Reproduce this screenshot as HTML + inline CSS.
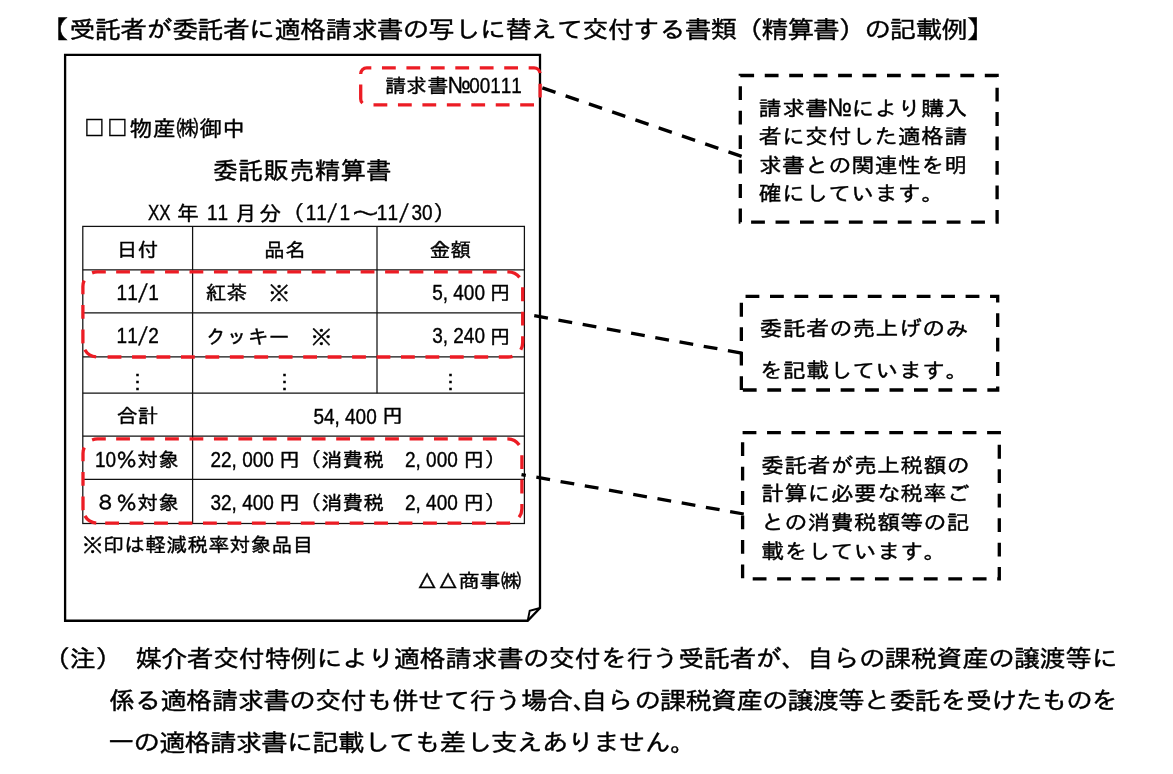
<!DOCTYPE html>
<html lang="ja">
<head>
<meta charset="utf-8">
<title>委託販売精算書の記載例</title>
<style>
html,body{margin:0;padding:0;background:#fff;}
body{width:1173px;height:774px;overflow:hidden;}
svg{display:block;will-change:transform;}
svg text.l{font-kerning:none;}
svg text{font-family:'Liberation Sans', 'IPAGothic', sans-serif;fill:#000;white-space:pre;stroke:#000;stroke-width:0.4px;}
</style>
</head>
<body>
<svg width="1173" height="774" viewBox="0 0 1173 774">
<rect x="0" y="0" width="1173" height="774" fill="#fff"/>
<!-- title -->
<text transform="translate(33.10 38.00) scale(1.450 1)" x="0.00" y="0" font-size="25.10" stroke-width="0.60">【</text>
<text transform="translate(69.66 37.80) scale(1.100 1)" x="-0.34" y="0" font-size="24.00" stroke-width="0.58" letter-spacing="-0.673">受託者が委託者に適格請求書の写しに替えて交付する書類（精算書）の記載例</text>
<text transform="translate(966.00 38.00) scale(1.450 1)" x="0.00" y="0" font-size="25.10" stroke-width="0.60">】</text>
<!-- sheet frame -->
<path d="M65.1 54.9 L540.0 54.9 L540.0 608 L527.7 620.75 L65.1 620.75 Z" fill="none" stroke="#000" stroke-width="2.3" stroke-linejoin="miter"/>
<path d="M540.0 608 L529.7 610.8 L527.7 620.75" fill="none" stroke="#000" stroke-width="1.9" stroke-linejoin="miter"/>
<!-- table -->
<rect x="82.8" y="226.4" width="441.60" height="297.10" fill="none" stroke="#111" stroke-width="1.25"/>
<line x1="82.80" y1="269.80" x2="524.40" y2="269.80" stroke="#111" stroke-width="1.25" />
<line x1="82.80" y1="312.80" x2="524.40" y2="312.80" stroke="#111" stroke-width="1.25" />
<line x1="82.80" y1="356.90" x2="524.40" y2="356.90" stroke="#111" stroke-width="1.25" />
<line x1="82.80" y1="393.20" x2="524.40" y2="393.20" stroke="#111" stroke-width="1.25" />
<line x1="82.80" y1="436.20" x2="524.40" y2="436.20" stroke="#111" stroke-width="1.25" />
<line x1="82.80" y1="479.30" x2="524.40" y2="479.30" stroke="#111" stroke-width="1.25" />
<line x1="192.60" y1="226.40" x2="192.60" y2="523.50" stroke="#111" stroke-width="1.25" />
<line x1="377.00" y1="226.40" x2="377.00" y2="393.20" stroke="#111" stroke-width="1.25" />
<!-- invoice text -->
<text transform="translate(385.10 93.30) scale(1.050 1)" x="0.17" y="0" font-size="19.75" stroke-width="0.47" letter-spacing="0.345">請求書</text>
<text transform="translate(447.52 92.90) scale(0.930 1.000)" x="0" y="0" font-size="23.20">№</text>
<text transform="translate(469.30 92.90) scale(0.847 1)" x="0" y="0" font-size="22.30" stroke-width="0.3" class="l">00111</text>
<text transform="translate(86.31 135.60) scale(1.000 1.070)" x="0" y="0" font-size="26.80" stroke-width="1.0">□</text>
<text transform="translate(109.31 135.60) scale(1.000 1.070)" x="0" y="0" font-size="26.80" stroke-width="1.0">□</text>
<text transform="translate(129.20 136.40) scale(1.050 1)" x="0.25" y="0" font-size="21.70" stroke-width="0.52" letter-spacing="0.490">物産㈱御中</text>
<text transform="translate(212.50 178.80) scale(1.050 1)" x="0.19" y="0" font-size="24.00" stroke-width="0.58" letter-spacing="0.381">委託販売精算書</text>
<text transform="translate(148.00 220.10) scale(0.756 1)" x="0" y="0" font-size="22.30" stroke-width="0.3" class="l">XX</text>
<text transform="translate(176.70 220.60) scale(1.050 1)" x="0.07" y="0" font-size="21.00" stroke-width="0.50" letter-spacing="0.143">年</text>
<text transform="translate(207.05 220.10) scale(0.851 1)" x="0" y="0" font-size="22.30" stroke-width="0.3" class="l">11</text>
<text transform="translate(234.60 220.60) scale(1.050 1)" x="0.07" y="0" font-size="21.00" stroke-width="0.50" letter-spacing="0.143">月</text>
<text transform="translate(259.15 220.60) scale(1.050 1)" x="0.07" y="0" font-size="21.00" stroke-width="0.50" letter-spacing="0.143">分</text>
<text transform="translate(282.30 220.60) scale(1.050 1)" x="0.07" y="0" font-size="21.00" stroke-width="0.50" letter-spacing="0.143">（</text>
<text transform="translate(305.70 220.10) scale(0.851 1)" x="0" y="0" font-size="22.30" stroke-width="0.3" class="l">11</text>
<text transform="translate(327.53 222.11) matrix(0.8 0 -0.2 1 0 0)" x="0" y="0" font-size="25.64" stroke="none" class="l">/</text>
<text transform="translate(339.50 220.10) scale(0.851 1)" x="0" y="0" font-size="22.30" stroke-width="0.3" class="l">1</text>
<text transform="translate(351.60 220.60) scale(1.350 1)" x="0.00" y="0" font-size="21.00" stroke-width="0.50">～</text>
<text transform="translate(376.85 220.10) scale(0.851 1)" x="0" y="0" font-size="22.30" stroke-width="0.3" class="l">11</text>
<text transform="translate(399.13 222.11) matrix(0.8 0 -0.2 1 0 0)" x="0" y="0" font-size="25.64" stroke="none" class="l">/</text>
<text transform="translate(411.55 220.10) scale(0.851 1)" x="0" y="0" font-size="22.30" stroke-width="0.3" class="l">30</text>
<text transform="translate(433.30 220.60) scale(1.050 1)" x="0.07" y="0" font-size="21.00" stroke-width="0.50" letter-spacing="0.143">）</text>
<text transform="translate(116.60 257.00) scale(1.050 1)" x="0.17" y="0" font-size="19.75" stroke-width="0.47" letter-spacing="0.345">日付</text>
<text transform="translate(263.70 257.00) scale(1.050 1)" x="0.17" y="0" font-size="19.75" stroke-width="0.47" letter-spacing="0.345">品名</text>
<text transform="translate(429.60 257.00) scale(1.050 1)" x="0.17" y="0" font-size="19.75" stroke-width="0.47" letter-spacing="0.345">金額</text>
<text transform="translate(116.60 300.10) scale(0.851 1)" x="0" y="0" font-size="22.30" stroke-width="0.3" class="l">11</text>
<text transform="translate(138.23 302.11) matrix(0.8 0 -0.2 1 0 0)" x="0" y="0" font-size="25.64" stroke="none" class="l">/</text>
<text transform="translate(148.25 300.10) scale(0.851 1)" x="0" y="0" font-size="22.30" stroke-width="0.3" class="l">1</text>
<text transform="translate(205.30 300.20) scale(1.050 1)" x="0.17" y="0" font-size="19.75" stroke-width="0.47" letter-spacing="0.345">紅茶　※</text>
<text transform="translate(432.20 300.10) scale(0.851 1)" x="0" y="0" font-size="22.30" stroke-width="0.3" class="l">5,</text>
<text transform="translate(453.30 300.10) scale(0.851 1)" x="0" y="0" font-size="22.30" stroke-width="0.3" class="l">400</text>
<text transform="translate(489.60 300.20) scale(1.050 1)" x="0.17" y="0" font-size="19.75" stroke-width="0.47" letter-spacing="0.345">円</text>
<text transform="translate(116.60 343.40) scale(0.851 1)" x="0" y="0" font-size="22.30" stroke-width="0.3" class="l">11</text>
<text transform="translate(138.23 345.41) matrix(0.8 0 -0.2 1 0 0)" x="0" y="0" font-size="25.64" stroke="none" class="l">/</text>
<text transform="translate(148.25 343.40) scale(0.851 1)" x="0" y="0" font-size="22.30" stroke-width="0.3" class="l">2</text>
<text transform="translate(205.30 343.50) scale(1.050 1)" x="0.17" y="0" font-size="19.75" stroke-width="0.47" letter-spacing="0.345">クッキー　※</text>
<text transform="translate(432.20 343.40) scale(0.851 1)" x="0" y="0" font-size="22.30" stroke-width="0.3" class="l">3,</text>
<text transform="translate(453.30 343.40) scale(0.851 1)" x="0" y="0" font-size="22.30" stroke-width="0.3" class="l">240</text>
<text transform="translate(489.60 343.50) scale(1.050 1)" x="0.17" y="0" font-size="19.75" stroke-width="0.47" letter-spacing="0.345">円</text>
<text transform="translate(127.15 387.60) scale(1.050 1)" x="0.17" y="0" font-size="19.75" stroke-width="0.47" letter-spacing="0.345">⋮</text>
<text transform="translate(274.25 387.60) scale(1.050 1)" x="0.17" y="0" font-size="19.75" stroke-width="0.47" letter-spacing="0.345">⋮</text>
<text transform="translate(440.15 387.60) scale(1.050 1)" x="0.17" y="0" font-size="19.75" stroke-width="0.47" letter-spacing="0.345">⋮</text>
<text transform="translate(116.60 423.40) scale(1.050 1)" x="0.17" y="0" font-size="19.75" stroke-width="0.47" letter-spacing="0.345">合計</text>
<text transform="translate(313.40 423.60) scale(0.851 1)" x="0" y="0" font-size="22.30" stroke-width="0.3" class="l">54,</text>
<text transform="translate(345.05 423.60) scale(0.851 1)" x="0" y="0" font-size="22.30" stroke-width="0.3" class="l">400</text>
<text transform="translate(382.00 423.40) scale(1.050 1)" x="0.17" y="0" font-size="19.75" stroke-width="0.47" letter-spacing="0.345">円</text>
<text transform="translate(94.90 466.80) scale(0.851 1)" x="0" y="0" font-size="22.30" stroke-width="0.3" class="l">10</text>
<text transform="translate(116.00 466.90) scale(1.050 1)" x="0.17" y="0" font-size="19.75" stroke-width="0.47" letter-spacing="0.345">％対象</text>
<text transform="translate(210.50 466.80) scale(0.851 1)" x="0" y="0" font-size="22.30" stroke-width="0.3" class="l">22,</text>
<text transform="translate(242.15 466.80) scale(0.851 1)" x="0" y="0" font-size="22.30" stroke-width="0.3" class="l">000</text>
<text transform="translate(279.00 466.90) scale(1.050 1)" x="0.17" y="0" font-size="19.75" stroke-width="0.47" letter-spacing="0.345">円（消費税</text>
<text transform="translate(405.00 466.80) scale(0.851 1)" x="0" y="0" font-size="22.30" stroke-width="0.3" class="l">2,</text>
<text transform="translate(426.10 466.80) scale(0.851 1)" x="0" y="0" font-size="22.30" stroke-width="0.3" class="l">000</text>
<text transform="translate(463.40 466.90) scale(1.050 1)" x="0.17" y="0" font-size="19.75" stroke-width="0.47" letter-spacing="0.345">円）</text>
<text transform="translate(94.90 510.00) scale(1.050 1)" x="0.17" y="0" font-size="19.75" stroke-width="0.47" letter-spacing="0.345">８％対象</text>
<text transform="translate(210.50 509.90) scale(0.851 1)" x="0" y="0" font-size="22.30" stroke-width="0.3" class="l">32,</text>
<text transform="translate(242.15 509.90) scale(0.851 1)" x="0" y="0" font-size="22.30" stroke-width="0.3" class="l">400</text>
<text transform="translate(279.00 510.00) scale(1.050 1)" x="0.17" y="0" font-size="19.75" stroke-width="0.47" letter-spacing="0.345">円（消費税</text>
<text transform="translate(405.00 509.90) scale(0.851 1)" x="0" y="0" font-size="22.30" stroke-width="0.3" class="l">2,</text>
<text transform="translate(426.10 509.90) scale(0.851 1)" x="0" y="0" font-size="22.30" stroke-width="0.3" class="l">400</text>
<text transform="translate(463.40 510.00) scale(1.050 1)" x="0.17" y="0" font-size="19.75" stroke-width="0.47" letter-spacing="0.345">円）</text>
<text transform="translate(82.10 551.60) scale(1.050 1)" x="0.15" y="0" font-size="19.75" stroke-width="0.47" letter-spacing="0.298">※印は軽減税率対象品目</text>
<text transform="translate(416.60 588.20) scale(1.050 1)" x="0.12" y="0" font-size="19.75" stroke-width="0.47" letter-spacing="0.250">△△商事㈱</text>
<!-- highlight boxes -->
<path d="M360.7 73.9 A6 6 0 0 1 366.7 67.9 L534.1 67.9 A6 6 0 0 1 540.1 73.9 L540.1 98.9 A6 6 0 0 1 534.1 104.9 L366.7 104.9" fill="none" stroke="#ec1c24" stroke-width="3.3" stroke-dasharray="13.8 10.65"/>
<path d="M366.7 104.9 A6 6 0 0 1 360.7 98.9 L360.7 73.9" fill="none" stroke="#ec1c24" stroke-width="3.3" stroke-dasharray="0 4.55 18.97 100"/>
<path d="M110.50 271.90 L508.20 271.90 A14.5 14.5 0 0 1 522.70 286.40 L522.70 342.50 A14.5 14.5 0 0 1 508.20 357.00 L101.00 357.00" fill="none" stroke="#ec1c24" stroke-width="3.3" stroke-dasharray="13.8 10.65" stroke-dashoffset="18.8"/>
<path d="M101.00 357.00 L97.40 357.00 A14.5 14.5 0 0 1 82.90 342.50 L82.90 286.40 A14.5 14.5 0 0 1 97.40 271.90 L110.50 271.90" fill="none" stroke="#ec1c24" stroke-width="3.3" stroke-dasharray="0.00 4.90 13.80 6.68 13.80 10.80 13.80 10.80 13.80 11.18 13.80 100.00"/>
<path d="M110.50 438.90 L507.40 438.90 A14.5 14.5 0 0 1 521.90 453.40 L521.90 508.70 A14.5 14.5 0 0 1 507.40 523.20 L101.10 523.20" fill="none" stroke="#ec1c24" stroke-width="3.3" stroke-dasharray="13.8 10.65" stroke-dashoffset="18.8"/>
<path d="M101.10 523.20 L97.50 523.20 A14.5 14.5 0 0 1 83.00 508.70 L83.00 453.40 A14.5 14.5 0 0 1 97.50 438.90 L110.50 438.90" fill="none" stroke="#ec1c24" stroke-width="3.3" stroke-dasharray="0.00 4.90 13.80 5.88 13.80 10.80 13.80 10.80 13.80 11.08 13.80 100.00"/>
<!-- callouts -->
<path d="M740.3 75.5 L997.1 75.5 L997.1 222.2 L740.3 222.2 Z" fill="none" stroke="#000" stroke-width="3.3" stroke-dasharray="13.8 10.65" stroke-linejoin="miter"/>
<path d="M741.35 390.0 L741.35 296.4 L997.7 296.4 L997.7 390.0 Z" fill="none" stroke="#000" stroke-width="3.3" stroke-dasharray="13.8 10.65" stroke-linejoin="miter"/>
<path d="M742.6 432.6 L999.3 432.6 L999.3 578.8 L742.6 578.8 Z" fill="none" stroke="#000" stroke-width="3.3" stroke-dasharray="13.8 10.65" stroke-linejoin="miter"/>
<line x1="741.6" y1="156.4" x2="542.3" y2="87.8" stroke="#000" stroke-width="3.3" stroke-dasharray="13.9 10.7"/>
<line x1="741.6" y1="353.1" x2="533.0" y2="315.5" stroke="#000" stroke-width="3.3" stroke-dasharray="13.9 10.7"/>
<line x1="743.8" y1="514.0" x2="521.5" y2="474.6" stroke="#000" stroke-width="3.3" stroke-dasharray="13.9 10.7"/>
<text transform="translate(758.60 115.90) scale(1.090 1)" x="0.19" y="0" font-size="20.90" stroke-width="0.50" letter-spacing="0.384">請求書</text>
<text transform="translate(827.33 115.60) scale(0.930 1.000)" x="0" y="0" font-size="25.00">№</text>
<text transform="translate(851.40 115.90) scale(1.090 1)" x="0.19" y="0" font-size="20.90" stroke-width="0.50" letter-spacing="0.384">により購入</text>
<text transform="translate(758.60 144.30) scale(1.090 1)" x="0.19" y="0" font-size="20.90" stroke-width="0.50" letter-spacing="0.384">者に交付した適格請</text>
<text transform="translate(758.60 172.70) scale(1.090 1)" x="0.19" y="0" font-size="20.90" stroke-width="0.50" letter-spacing="0.384">求書との関連性を明</text>
<text transform="translate(758.60 201.00) scale(1.090 1)" x="0.19" y="0" font-size="20.90" stroke-width="0.50" letter-spacing="0.384">確にしています。</text>
<text transform="translate(759.60 335.90) scale(1.090 1)" x="0.19" y="0" font-size="20.90" stroke-width="0.50" letter-spacing="0.384">委託者の売上げのみ</text>
<text transform="translate(759.60 378.10) scale(1.090 1)" x="0.19" y="0" font-size="20.90" stroke-width="0.50" letter-spacing="0.384">を記載しています。</text>
<text transform="translate(761.00 472.80) scale(1.090 1)" x="0.19" y="0" font-size="20.90" stroke-width="0.50" letter-spacing="0.384">委託者が売上税額の</text>
<text transform="translate(761.00 501.30) scale(1.090 1)" x="0.19" y="0" font-size="20.90" stroke-width="0.50" letter-spacing="0.384">計算に必要な税率ご</text>
<text transform="translate(761.00 530.10) scale(1.090 1)" x="0.19" y="0" font-size="20.90" stroke-width="0.50" letter-spacing="0.384">との消費税額等の記</text>
<text transform="translate(761.00 558.50) scale(1.090 1)" x="0.19" y="0" font-size="20.90" stroke-width="0.50" letter-spacing="0.384">載をしています。</text>
<!-- note -->
<text transform="translate(44.00 666.70) scale(1.100 1)" x="-0.25" y="0" font-size="24.00" stroke-width="0.58" letter-spacing="-0.500">（注）</text>
<text transform="translate(135.70 666.70) scale(1.100 1)" x="-0.25" y="0" font-size="24.00" stroke-width="0.58" letter-spacing="-0.500">媒介者交付特例により適格請求書の交付を行う受託者が、自らの課税資産の譲渡等に</text>
<text transform="translate(109.30 708.80) scale(1.100 1)" x="-0.29" y="0" font-size="24.00" stroke-width="0.58" letter-spacing="-0.582">係る適格請求書の交付も併せて行う場合</text>
<text transform="translate(573.00 708.80) scale(1.100 1)" x="-0.29" y="0" font-size="24.00" stroke-width="0.58" letter-spacing="-0.582">、</text>
<text transform="translate(581.60 708.80) scale(1.100 1)" x="-0.41" y="0" font-size="24.00" stroke-width="0.58" letter-spacing="-0.818">自ら</text>
<text transform="translate(634.90 708.80) scale(1.100 1)" x="-0.41" y="0" font-size="24.00" stroke-width="0.58" letter-spacing="-0.818">の課税資産の譲渡等と委託を受</text>
<text transform="translate(991.60 708.80) scale(1.100 1)" x="-0.59" y="0" font-size="24.00" stroke-width="0.58" letter-spacing="-1.182">けたものを</text>
<text transform="translate(108.50 750.80) scale(1.100 1)" x="-0.39" y="0" font-size="24.00" stroke-width="0.58" letter-spacing="-0.773">一の適格請求書に記載しても差し支えありません。</text>
</svg>
</body>
</html>
